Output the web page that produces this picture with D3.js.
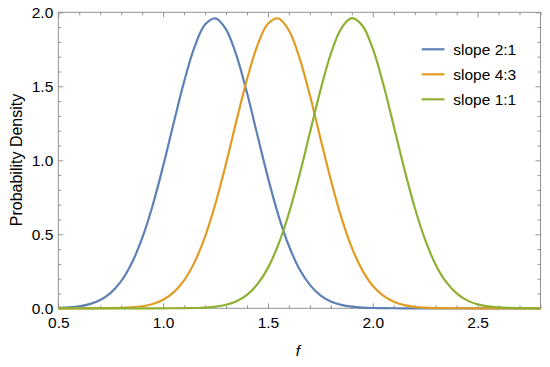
<!DOCTYPE html>
<html>
<head>
<meta charset="utf-8">
<script src="https://cdn.jsdelivr.net/npm/d3@7"></script>
<style>
  body { margin: 0; background: #fff; }
  svg { display: block; font-family: "Liberation Sans", Arial, sans-serif; }
</style>
</head>
<body>
<svg id="chart" width="550" height="367"></svg>
<script>
// Shared x grid (f)
const fValues = [0.50,0.55,0.60,0.65,0.70,0.75,0.80,0.85,0.90,0.95,1.00,1.05,1.10,1.15,1.20,1.25,1.30,1.35,1.40,1.45,1.50,1.55,1.60,1.65,1.70,1.75,1.80,1.85,1.90,1.95,2.00,2.05,2.10,2.15,2.20,2.25,2.30,2.35,2.40,2.45,2.50,2.55,2.60,2.65,2.70,2.75,2.80];
// Probability density
const slope21 = [0.0025,0.0059,0.0133,0.0281,0.0557,0.104,0.183,0.304,0.474,0.695,0.961,1.250,1.531,1.766,1.917,1.959,1.885,1.707,1.456,1.168,0.883,0.628,0.421,0.265,0.158,0.088,0.0463,0.0229,0.0107,0.0047,0.0019,0.0008,0.0003,0.0001,0,0,0,0,0,0,0,0,0,0,0,0,0];
const slope43 = [0,0,0,0.0001,0.0004,0.0010,0.0026,0.0063,0.0139,0.0293,0.058,0.108,0.189,0.312,0.485,0.710,0.978,1.268,1.547,1.777,1.923,1.958,1.877,1.694,1.439,1.151,0.867,0.614,0.410,0.258,0.152,0.085,0.0445,0.0219,0.0102,0.0045,0.0018,0.0007,0.0003,0.0001,0,0,0,0,0,0,0];
const slope11 = [0,0,0,0,0,0,0,0,0,0,0.0001,0.0003,0.0008,0.0020,0.0049,0.0112,0.0240,0.0482,0.0913,0.163,0.273,0.432,0.642,0.899,1.186,1.472,1.720,1.892,1.960,1.911,1.754,1.515,1.232,0.944,0.681,0.462,0.295,0.178,0.101,0.0536,0.0269,0.0127,0.0057,0.0024,0.0009,0.0003,0.0001];
const seriesNames = ["slope 2:1","slope 4:3","slope 1:1"];
const seriesColors = ["#5E81B5","#E19C24","#8FB032"];
const xTickLabels = [0.5,1.0,1.5,2.0,2.5];
const yTickLabels = [0.0,0.5,1.0,1.5,2.0];

const svg = d3.select("#chart");
const mLeft = 58.3, mRight = 540.5, mTop = 12.3, mBottom = 308.3;
const x = d3.scaleLinear().domain([0.5, 2.8]).range([mLeft, mRight]);
const y = d3.scaleLinear().domain([0, 2.0]).range([mBottom, mTop]);

const frameColor = "#929292";
const fmt = d3.format(".1f");
const xMinor = d3.range(5, 29).map(v => v / 10).filter(v => !xTickLabels.some(t => Math.abs(t - v) < 1e-9));
const yMinor = d3.range(0, 21).map(v => v / 10).filter(v => !yTickLabels.some(t => Math.abs(t - v) < 1e-9));

// Frame
svg.append("rect").attr("x", mLeft).attr("y", mTop).attr("width", mRight - mLeft).attr("height", mBottom - mTop)
  .attr("fill", "none").attr("stroke", frameColor).attr("stroke-width", 1);

function styleAxis(g) {
  g.select(".domain").remove();
  g.selectAll(".tick line").attr("stroke", frameColor);
  g.selectAll(".tick text").attr("fill", "#000").style("font-size", "15.5px");
}

// Bottom axis
svg.append("g").attr("transform", `translate(0,${mBottom})`)
  .call(d3.axisBottom(x).tickValues(xTickLabels).tickFormat(fmt).tickSizeInner(-5).tickPadding(9))
  .call(styleAxis);
svg.append("g").attr("transform", `translate(0,${mBottom})`)
  .call(d3.axisBottom(x).tickValues(xMinor).tickFormat("").tickSizeInner(-3).tickSizeOuter(0))
  .call(styleAxis);
// Top axis (mirrored, no labels)
svg.append("g").attr("transform", `translate(0,${mTop})`)
  .call(d3.axisTop(x).tickValues(xTickLabels).tickFormat("").tickSizeInner(-5).tickSizeOuter(0))
  .call(styleAxis);
svg.append("g").attr("transform", `translate(0,${mTop})`)
  .call(d3.axisTop(x).tickValues(xMinor).tickFormat("").tickSizeInner(-3).tickSizeOuter(0))
  .call(styleAxis);
// Left axis
svg.append("g").attr("transform", `translate(${mLeft},0)`)
  .call(d3.axisLeft(y).tickValues(yTickLabels).tickFormat(fmt).tickSizeInner(-5).tickPadding(5))
  .call(styleAxis);
svg.append("g").attr("transform", `translate(${mLeft},0)`)
  .call(d3.axisLeft(y).tickValues(yMinor).tickFormat("").tickSizeInner(-3).tickSizeOuter(0))
  .call(styleAxis);
// Right axis (mirrored)
svg.append("g").attr("transform", `translate(${mRight},0)`)
  .call(d3.axisRight(y).tickValues(yTickLabels).tickFormat("").tickSizeInner(-5).tickSizeOuter(0))
  .call(styleAxis);
svg.append("g").attr("transform", `translate(${mRight},0)`)
  .call(d3.axisRight(y).tickValues(yMinor).tickFormat("").tickSizeInner(-3).tickSizeOuter(0))
  .call(styleAxis);

// Curves
const allSeries = [slope21, slope43, slope11];
const line = d3.line().x(d => x(d[0])).y(d => y(d[1])).curve(d3.curveCatmullRom.alpha(0.5));
allSeries.forEach((vals, i) => {
  svg.append("path")
    .datum(fValues.map((f, j) => [f, vals[j]]))
    .attr("d", line)
    .attr("fill", "none")
    .attr("stroke", seriesColors[i])
    .attr("stroke-width", 2.2);
});

// Legend
const legend = svg.append("g");
seriesNames.forEach((name, i) => {
  const ly = 49.3 + i * 25;
  legend.append("line").attr("x1", 421.7).attr("x2", 444.5).attr("y1", ly).attr("y2", ly)
    .attr("stroke", seriesColors[i]).attr("stroke-width", 2.2);
  legend.append("text").attr("x", 453.3).attr("y", ly).attr("dy", "0.35em")
    .style("font-size", "15.5px").attr("fill", "#000").text(name);
});

// Axis labels
svg.append("text").attr("x", 298).attr("y", 356).attr("text-anchor", "middle")
  .style("font-size", "15.5px").style("font-style", "italic").text("f");
svg.append("text").attr("transform", "translate(22,160) rotate(-90)").attr("text-anchor", "middle")
  .style("font-size", "16px").text("Probability Density");
</script>
</body>
</html>
